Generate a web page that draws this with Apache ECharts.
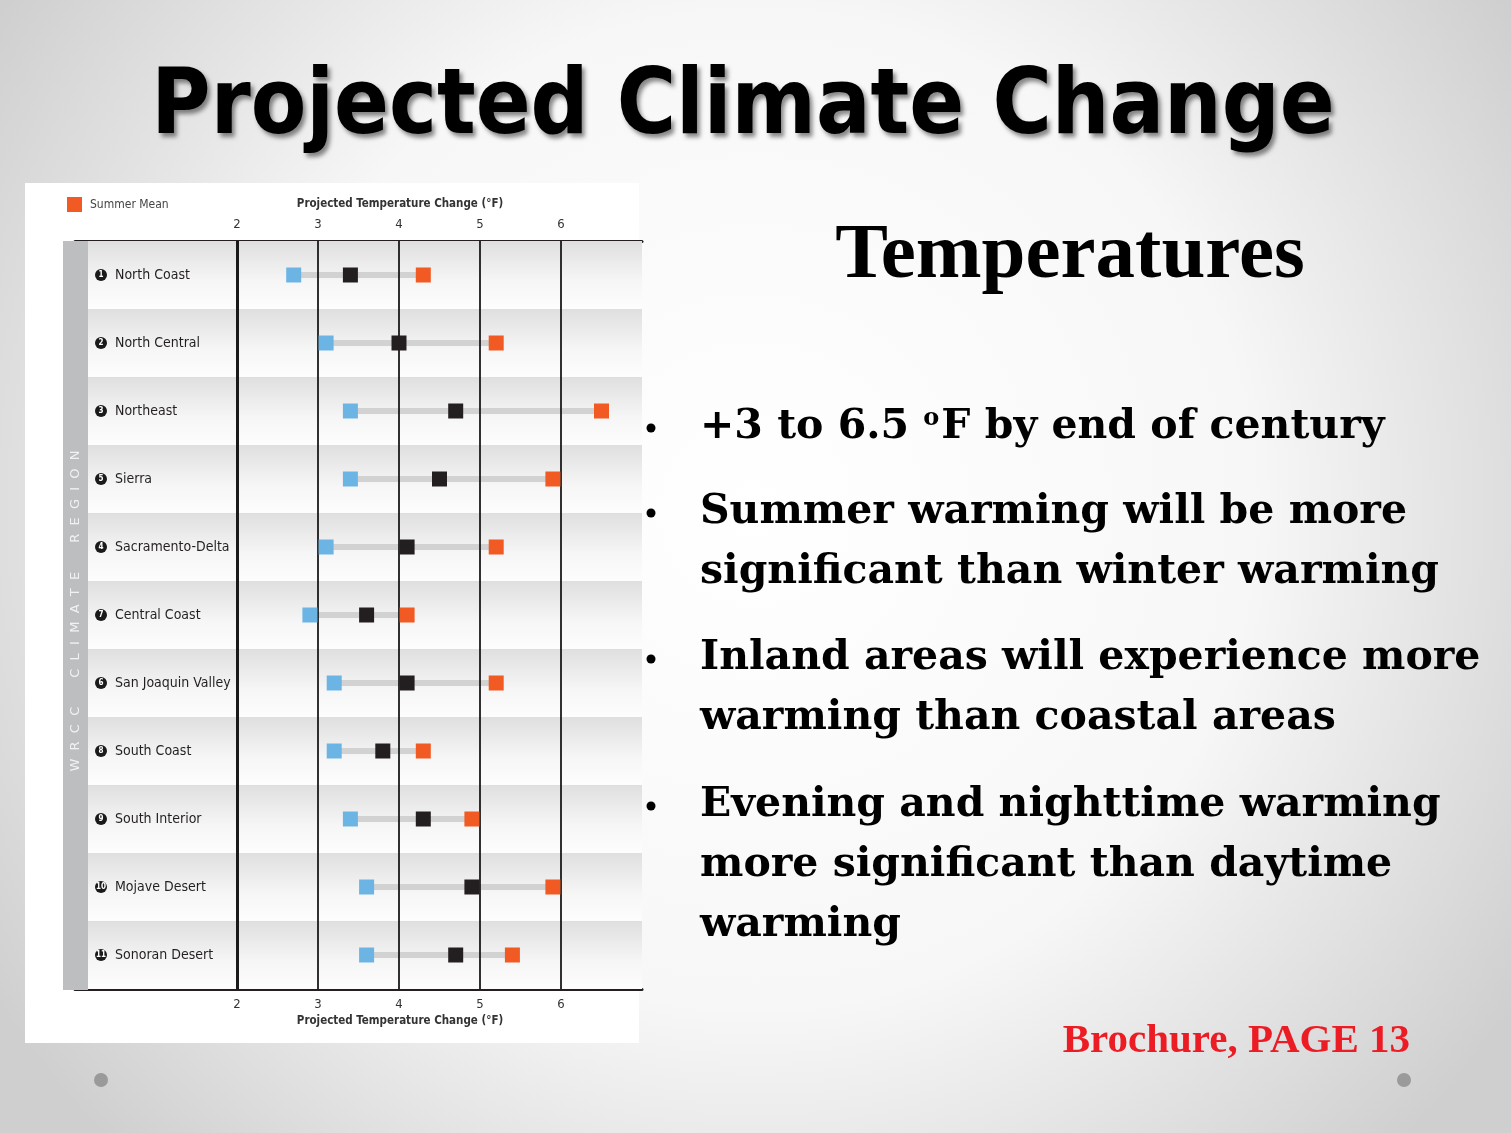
<!DOCTYPE html>
<html>
<head>
<meta charset="utf-8">
<script src="https://cdn.jsdelivr.net/npm/echarts@6/dist/echarts.min.js"></script>
<style>html,body{margin:0;padding:0;}#c{width:1511px;height:1133px;}</style>
</head>
<body>
<div id="c"></div>
<script>
// ---- data ----
const regions = ['North Coast','North Central','Northeast','Sierra','Sacramento-Delta','Central Coast','San Joaquin Valley','South Coast','South Interior','Mojave Desert','Sonoran Desert'];
const regionNumbers = ['1','2','3','5','4','7','6','8','9','10','11'];
const winterMean = [2.7, 3.1, 3.4, 3.4, 3.1, 2.9, 3.2, 3.2, 3.4, 3.6, 3.6];
const annualMean = [3.4, 4.0, 4.7, 4.5, 4.1, 3.6, 4.1, 3.8, 4.3, 4.9, 4.7];
const summerMean = [4.3, 5.2, 6.5, 5.9, 5.2, 4.1, 5.2, 4.3, 4.9, 5.9, 5.4];
const xTicks = [2, 3, 4, 5, 6];
const axisTitle = 'Projected Temperature Change (°F)';

const narrow = "'Liberation Sans Narrow','Arial Narrow','DejaVu Sans Condensed',sans-serif";
const serif = "'DejaVu Serif','Liberation Serif',serif";
const times = "'Liberation Serif','Times New Roman',serif";

const chart = echarts.init(document.getElementById('c'));

const rowGrad = new echarts.graphic.LinearGradient(0, 0, 0, 1, [
  {offset: 0, color: '#dfdfdf'}, {offset: 0.6, color: '#f6f6f6'}, {offset: 1, color: '#fdfdfd'}
]);

function xAxisDef(pos) {
  return {
    type: 'value', position: pos, min: 0, max: 7, interval: 1,
    axisLine: {show: true, onZero: false, lineStyle: {color: '#231f20', width: 3}},
    axisTick: {show: false},
    splitLine: {show: false},
    axisLabel: {
      margin: pos === 'top' ? 10 : 9,
      fontFamily: narrow, fontSize: 13, color: '#333',
      formatter: v => xTicks.indexOf(v) >= 0 ? String(v) : ''
    }
  };
}

function spaced(words) {
  return words.map(w => w.split('').join('  ')).join('       ');
}

const bullets = [427, 512, 658, 805];
const lines = [
  {y: 427, text: '+3 to 6.5 {s|o}F by end of century'},
  {y: 512, text: 'Summer warming will be more'},
  {y: 572, text: 'significant than winter warming'},
  {y: 658, text: 'Inland areas will experience more'},
  {y: 718, text: 'warming than coastal areas'},
  {y: 805, text: 'Evening and nighttime warming'},
  {y: 865, text: 'more significant than daytime'},
  {y: 925, text: 'warming'}
];
const bodyFont = 41;

const graphics = [
  {type: 'rect', z: -10, shape: {x: 25, y: 183, width: 614, height: 860}, style: {fill: '#ffffff'}},
  {type: 'rect', z: 50, shape: {x: 63, y: 241, width: 25, height: 749}, style: {fill: '#bdbec0'}},
  {type: 'text', z: 51, x: 76, y: 611, rotation: Math.PI / 2,
    style: {text: spaced(['WRCC', 'CLIMATE', 'REGION']), fill: '#f2f2f2', font: "13px 'DejaVu Sans'", textAlign: 'center', textVerticalAlign: 'middle'}},
  {type: 'text', z: 51, x: 400, y: 204,
    style: {text: axisTitle, fill: '#333', font: "bold 11.5px " + narrow, textAlign: 'center', textVerticalAlign: 'middle'}},
  {type: 'text', z: 51, x: 400, y: 1021,
    style: {text: axisTitle, fill: '#333', font: "bold 11.5px " + narrow, textAlign: 'center', textVerticalAlign: 'middle'}},
  {type: 'text', z: 60, x: 743, y: 110,
    style: {text: 'Projected Climate Change', fill: '#000', font: "bold 90px 'DejaVu Sans Condensed','DejaVu Sans',sans-serif",
      textAlign: 'center', textVerticalAlign: 'middle', textShadowColor: 'rgba(0,0,0,0.45)', textShadowBlur: 4, textShadowOffsetX: 3, textShadowOffsetY: 4}},
  {type: 'text', z: 60, x: 1070, y: 257,
    style: {text: 'Temperatures', fill: '#000', font: "bold 79px " + times, textAlign: 'center', textVerticalAlign: 'middle'}},
  {type: 'text', z: 60, x: 1410, y: 1041,
    style: {text: 'Brochure, PAGE 13', fill: '#ec1c24', font: "bold 41px " + times, textAlign: 'right', textVerticalAlign: 'middle'}},
  {type: 'circle', z: 60, shape: {cx: 101, cy: 1080, r: 7}, style: {fill: '#9a9a9a'}},
  {type: 'circle', z: 60, shape: {cx: 1404, cy: 1080, r: 7}, style: {fill: '#9a9a9a'}}
];
bullets.forEach(y => graphics.push({type: 'circle', z: 60, shape: {cx: 651, cy: y + 1, r: 4.5}, style: {fill: '#000'}}));
lines.forEach(l => graphics.push({type: 'text', z: 60, x: 700, y: l.y,
  style: {text: l.text, fill: '#000', font: "bold " + bodyFont + "px " + serif, textAlign: 'left', textVerticalAlign: 'middle',
    rich: {s: {font: "bold 24px " + serif, fill: '#000', verticalAlign: 'top', padding: [0, 2, 0, 0]}}}}));

const option = {
  animation: false,
  backgroundColor: new echarts.graphic.RadialGradient(0.5, 0.45, 0.8, [
    {offset: 0, color: '#ffffff'}, {offset: 0.55, color: '#f7f7f7'}, {offset: 1, color: '#cfcfcf'}
  ]),
  legend: {
    data: ['Summer Mean'], left: 62, top: 192, itemWidth: 15, itemHeight: 15, icon: 'rect',
    textStyle: {fontFamily: narrow, fontSize: 12, color: '#444', padding: [0, 0, 0, 3]}
  },
  grid: {left: 75, right: 869, top: 241, bottom: 144},
  xAxis: [xAxisDef('top'), xAxisDef('bottom')],
  yAxis: {
    type: 'category', data: regions, inverse: true,
    axisLine: {show: false}, axisTick: {show: false},
    splitArea: {show: true, areaStyle: {color: [rowGrad, rowGrad]}},
    axisLabel: {
      inside: true, margin: 20, align: 'left', fontFamily: narrow, fontSize: 14, color: '#231f20',
      formatter: (v, i) => '{n|' + regionNumbers[i] + '}  ' + v,
      rich: {n: {backgroundColor: '#1a1a1a', color: '#fff', borderRadius: 6, width: 12, height: 12, lineHeight: 12,
        align: 'center', fontSize: 8, fontFamily: narrow, fontWeight: 'bold'}}
    },
    z: 3
  },
  series: [
    {
      type: 'custom', name: 'range', xAxisIndex: 0, z: 3,
      data: regions.map((r, i) => [winterMean[i], summerMean[i], i]),
      renderItem: (params, api) => {
        const a = api.coord([api.value(0), api.value(2)]);
        const b = api.coord([api.value(1), api.value(2)]);
        return {type: 'rect', shape: {x: a[0], y: a[1] - 3, width: b[0] - a[0], height: 6}, style: {fill: '#d2d2d2'}};
      },
      markLine: {
        silent: true, symbol: 'none', label: {show: false},
        data: xTicks.map(t => ({xAxis: t, lineStyle: {color: '#1a1a1a', width: t === 2 ? 3 : 1.8, type: 'solid'}}))
      }
    },
    {type: 'scatter', name: 'Winter Mean', symbol: 'rect', symbolSize: 15, z: 5, itemStyle: {color: '#6cb4e4', opacity: 1},
      data: regions.map((r, i) => [winterMean[i], r])},
    {type: 'scatter', name: 'Annual Mean', symbol: 'rect', symbolSize: 15, z: 5, itemStyle: {color: '#231f20', opacity: 1},
      data: regions.map((r, i) => [annualMean[i], r])},
    {type: 'scatter', name: 'Summer Mean', symbol: 'rect', symbolSize: 15, z: 5, itemStyle: {color: '#f15a22', opacity: 1},
      data: regions.map((r, i) => [summerMean[i], r])}
  ],
  graphic: {elements: graphics}
};
chart.setOption(option);
</script>
</body>
</html>
